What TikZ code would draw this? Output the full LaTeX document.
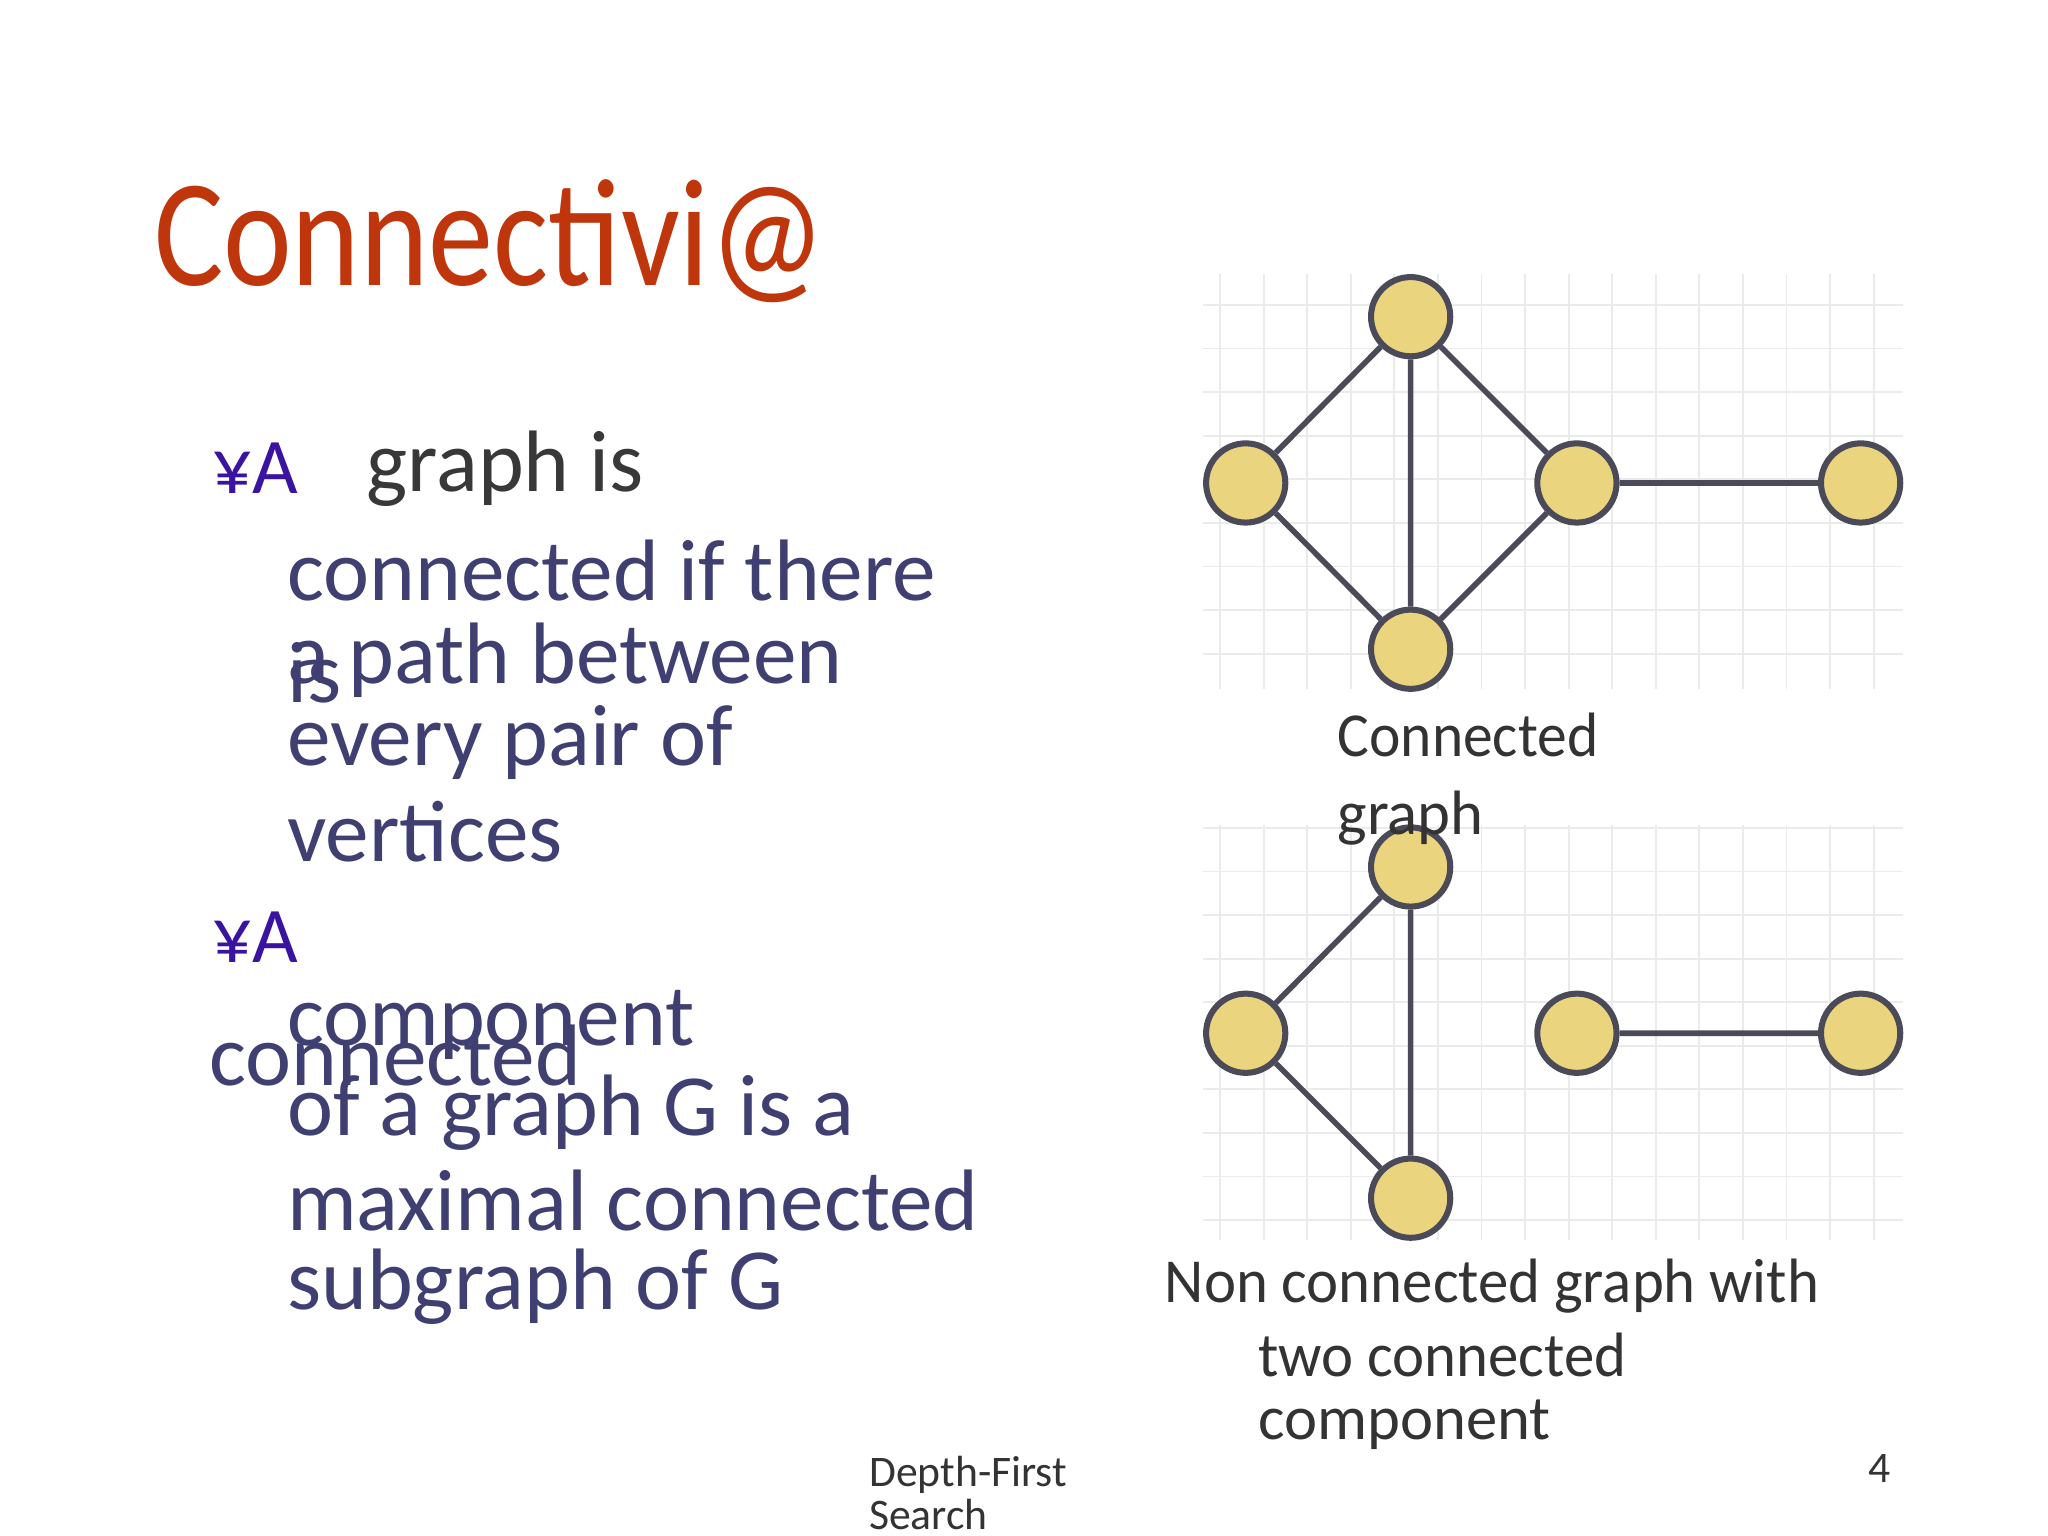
\documentclass[tikz,border=0pt]{standalone}
\usepackage{fontspec}
\setmainfont{Carlito}
\definecolor{ttl}{HTML}{BF360C}
\definecolor{bodyc}{HTML}{3F3F72}
\definecolor{bul}{HTML}{3A14A0}
\definecolor{vfill}{HTML}{EBD47E}
\definecolor{vline}{HTML}{4A4A58}
\definecolor{gridc}{HTML}{EBEBEB}
\begin{document}
\begin{tikzpicture}[x=0.01cm,y=-0.01cm,
  vert/.style={circle,draw=vline,line width=1.3pt,fill=vfill,minimum size=0.6cm,inner sep=0pt},
  edge/.style={draw=vline,line width=1.2pt},
  body/.style={anchor=west,inner sep=0pt,text=bodyc,font=\fontsize{18.8}{18.8}\selectfont},
  bullet/.style={anchor=west,inner sep=0pt,text=bul,font=\fontsize{17}{17}\selectfont},
  lab/.style={anchor=west,inner sep=0pt,text=black!80,font=\fontsize{13.5}{13.5}\selectfont},
  foot/.style={anchor=west,inner sep=0pt,text=black!80,font=\fontsize{9.4}{9.4}\selectfont}]
\useasboundingbox[fill=white] (0,0) rectangle (1552,1164);
\draw[gridc,step=0.33cm] (912,208) grid (1442,522);
\draw[gridc,step=0.33cm] (912,625) grid (1442,940);
\node[anchor=west,inner sep=0pt,text=ttl,font=\fontsize{33}{33}\selectfont] (title) at (116,183) {\scalebox{0.85}[1]{Connectivi@}};
\node[bullet] (b1) at (160,355) {¥A};
\node[body,text=black!78] (t1) at (277,355) {graph is};
\node[body] (t2) at (217,432) {connected if there};
\node[body] (t3) at (217,510) {is};
\node[body] (t4) at (217,500) {a path between};
\node[body] (t5) at (217,563) {every pair of};
\node[body] (t6) at (217,630) {vertices};
\node[bullet] (b2) at (160,710) {¥A};
\node[body] (t7) at (217,777) {component};
\node[body] (t8) at (158,800) {connected};
\node[body] (t9) at (217,843) {of a graph G is a};
\node[body] (t10) at (217,910) {maximal connected};
\node[body] (t11) at (217,975) {subgraph of G};
\node[vert] (a1) at (1069,240) {};
\node[vert] (a2) at (944,366) {};
\node[vert] (a3) at (1195,366) {};
\node[vert] (a4) at (1069,492) {};
\node[vert] (a5) at (1410,366) {};
\draw[edge] (a1)--(a2) (a1)--(a4) (a1)--(a3) (a2)--(a4) (a3)--(a4) (a3)--(a5);
\node[vert] (c1) at (1069,657) {};
\node[vert] (c2) at (944,783) {};
\node[vert] (c3) at (1195,783) {};
\node[vert] (c4) at (1069,908) {};
\node[vert] (c5) at (1410,783) {};
\draw[edge] (c1)--(c2) (c1)--(c4) (c2)--(c4) (c3)--(c5);
\node[lab] (l1) at (1013,557) {\scalebox{0.95}[1]{Connected}};
\node[lab] (l2) at (1013,620) {graph};
\node[lab] (l3) at (882,975) {\scalebox{0.97}[1]{Non connected graph with}};
\node[lab] (l4) at (953,1027) {\scalebox{0.97}[1]{two connected}};
\node[lab] (l5) at (953,1080) {component};
\node[foot] (f1) at (658,1118) {Depth-First};
\node[foot] (f2) at (658,1148) {Search};
\node[foot] (pg) at (1415,1113) {4};
\end{tikzpicture}
\end{document}
